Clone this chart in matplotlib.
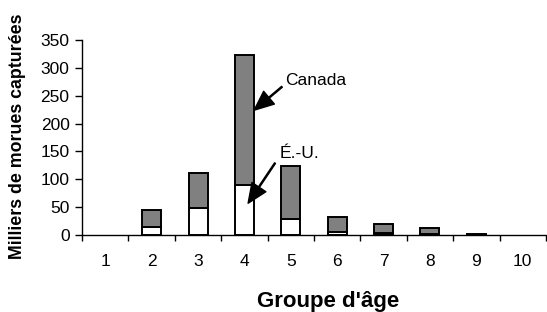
import matplotlib.pyplot as plt
import numpy as np

plt.rcParams["font.family"] = ["Liberation Sans", "DejaVu Sans"]

# Age groups and catches (thousands of cod)
ages = [1, 2, 3, 4, 5, 6, 7, 8, 9, 10]
us_catch = [0, 14, 48, 90, 28, 6, 3, 1, 0, 0]
canada_catch = [0, 31, 63, 233, 96, 26, 17, 11.5, 2, 0]

fig = plt.figure(figsize=(5.47, 3.12), dpi=100)
ax = fig.add_axes([0.15, 0.2468, 0.848, 0.625])

x = np.array(ages)
us = np.array(us_catch, dtype=float)
ca = np.array(canada_catch, dtype=float)

# skip empty bars so no stray outline is drawn on the axis
m_us = us > 0
m_ca = ca > 0
ax.bar(x[m_us], us[m_us], width=0.41, color="white", edgecolor="black", linewidth=1.4)
ax.bar(x[m_ca], ca[m_ca], width=0.41, bottom=us[m_ca], color="#808080",
       edgecolor="black", linewidth=1.4)

ax.set_xlim(0.5, 10.5)
ax.set_ylim(0, 350)
ax.set_yticks(range(0, 351, 50))
ax.tick_params(axis="y", labelsize=12.5, length=5, width=1, direction="out", pad=4)

# ticks at category boundaries, labels at centres
ax.set_xticks(np.arange(0.5, 11, 1))
ax.set_xticklabels([])
ax.set_xticks(x, minor=True)
ax.set_xticklabels([str(a) for a in ages], minor=True)
ax.tick_params(axis="x", which="major", length=4.5, width=1, direction="out")
ax.tick_params(axis="x", which="minor", length=0, labelsize=12.5, pad=14)

for s in ["top", "right"]:
    ax.spines[s].set_visible(False)
for s in ["left", "bottom"]:
    ax.spines[s].set_linewidth(1)

fig.text(18 / 547, 1 - 136 / 312, "Milliers de morues capturées", fontsize=12.8,
         fontweight="bold", rotation=90, ha="center", va="center")
fig.text(328 / 547, 1 - 307 / 312, "Groupe d'âge", fontsize=16,
         fontweight="bold", ha="center", va="baseline")

arrow = dict(facecolor="black", edgecolor="black", width=0.8, headwidth=12,
             headlength=14, shrink=0)
ax.annotate("", xy=(4.21, 224), xytext=(4.81, 266), arrowprops=arrow)
ax.text(4.87, 278, "Canada", fontsize=12.5, ha="left", va="center")
ax.annotate("", xy=(4.08, 57), xytext=(4.66, 129), arrowprops=arrow)
ax.text(4.77, 147, "É.-U.", fontsize=12.5, ha="left", va="center")

fig.savefig("out.png", dpi=100)
